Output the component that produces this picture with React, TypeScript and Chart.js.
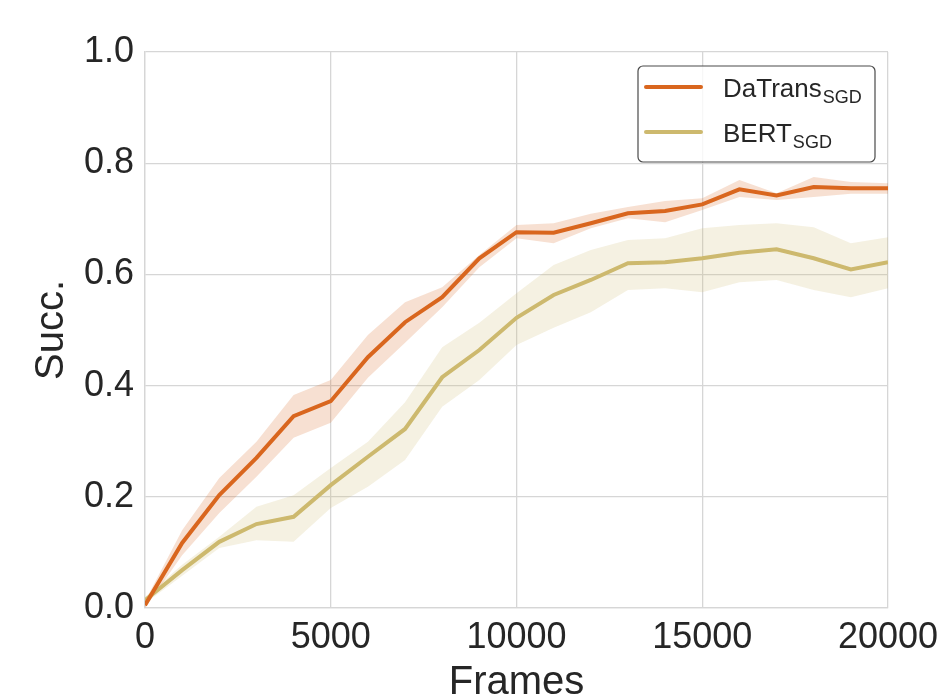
import React, { useEffect, useRef } from "react";
import { Chart, registerables } from "chart.js";

Chart.register(...registerables);

const frames = [0, 1000, 2000, 3000, 4000, 5000, 6000, 7000, 8000, 9000, 10000, 11000, 12000, 13000, 14000, 15000, 16000, 17000, 18000, 19000, 20000];

const datransMean = [0.005, 0.117, 0.203, 0.27, 0.345, 0.372, 0.451, 0.514, 0.559, 0.629, 0.676, 0.675, 0.692, 0.71, 0.714, 0.726, 0.753, 0.742, 0.757, 0.755, 0.755];
const datransUpper = [0.012, 0.14, 0.234, 0.299, 0.383, 0.41, 0.491, 0.55, 0.577, 0.635, 0.689, 0.692, 0.709, 0.721, 0.732, 0.737, 0.77, 0.746, 0.775, 0.766, 0.764];
const datransLower = [0.0, 0.095, 0.171, 0.236, 0.306, 0.333, 0.414, 0.477, 0.541, 0.613, 0.665, 0.656, 0.683, 0.701, 0.694, 0.716, 0.739, 0.734, 0.739, 0.745, 0.745];

const bertMean = [0.014, 0.068, 0.119, 0.151, 0.164, 0.221, 0.272, 0.322, 0.415, 0.464, 0.522, 0.563, 0.59, 0.62, 0.622, 0.629, 0.639, 0.645, 0.629, 0.609, 0.622];
const bertUpper = [0.02, 0.078, 0.128, 0.182, 0.203, 0.252, 0.299, 0.37, 0.469, 0.513, 0.566, 0.617, 0.644, 0.662, 0.665, 0.683, 0.689, 0.692, 0.685, 0.656, 0.667];
const bertLower = [0.008, 0.058, 0.108, 0.122, 0.119, 0.18, 0.218, 0.266, 0.362, 0.41, 0.473, 0.504, 0.532, 0.572, 0.575, 0.568, 0.586, 0.59, 0.572, 0.559, 0.575];

const legendNames = ["DaTrans", "BERT"];
const legendSubs = ["SGD", "SGD"];

const xTicks = [0, 5000, 10000, 15000, 20000];
const yTicks = [0, 0.2, 0.4, 0.6, 0.8, 1.0];

const ORANGE = "rgb(217,102,30)";
const ORANGE_BAND = "rgba(217,102,30,0.2)";
const TAN = "rgb(205,185,110)";
const TAN_BAND = "rgba(205,185,110,0.2)";
const FONT = "'Liberation Sans', Arial, sans-serif";
const TEXT = "#262626";
const GRID = "#d6d6d6";

const pts = (ys: number[]) => frames.map((x, i) => ({ x, y: ys[i] }));

const legendPlugin = {
  id: "subLegend",
  afterDraw(chart: any) {
    const { ctx, chartArea } = chart;
    const w = 237;
    const h = 96;
    const left = chartArea.right - 13 - w;
    const top = chartArea.top + 14;
    ctx.save();
    ctx.beginPath();
    ctx.roundRect(left, top, w, h, 5);
    ctx.fillStyle = "rgba(255,255,255,0.8)";
    ctx.fill();
    ctx.lineWidth = 1.2;
    ctx.strokeStyle = "#4a4a4a";
    ctx.stroke();
    const colors = [ORANGE, TAN];
    legendNames.forEach((name, i) => {
      const ly = top + 21 + i * 45;
      ctx.beginPath();
      ctx.moveTo(left + 8, ly);
      ctx.lineTo(left + 63, ly);
      ctx.lineWidth = 4;
      ctx.lineCap = "round";
      ctx.strokeStyle = colors[i];
      ctx.stroke();
      ctx.fillStyle = TEXT;
      ctx.textBaseline = "alphabetic";
      ctx.textAlign = "left";
      ctx.font = `26px ${FONT}`;
      const tx = left + 85;
      const by = ly + 10;
      ctx.fillText(name, tx, by);
      const tw = ctx.measureText(name).width;
      ctx.font = `18px ${FONT}`;
      ctx.fillText(legendSubs[i], tx + tw + 1, by + 6);
    });
    ctx.restore();
  },
};

export default function App() {
  const ref = useRef<HTMLCanvasElement>(null);
  useEffect(() => {
    document.body.style.margin = "0";
    const canvas = ref.current!;
    const chart = new Chart(canvas, {
      type: "line",
      data: {
        datasets: [
          { label: "DaTrans", data: pts(datransMean), borderColor: ORANGE, borderWidth: 4, pointRadius: 0, fill: false, tension: 0 },
          { label: "BERT", data: pts(bertMean), borderColor: TAN, borderWidth: 4, pointRadius: 0, fill: false, tension: 0 },
          { label: "dt-up", data: pts(datransUpper), borderWidth: 0, pointRadius: 0, backgroundColor: ORANGE_BAND, fill: "+1" },
          { label: "dt-lo", data: pts(datransLower), borderWidth: 0, pointRadius: 0, fill: false },
          { label: "b-up", data: pts(bertUpper), borderWidth: 0, pointRadius: 0, backgroundColor: TAN_BAND, fill: "+1" },
          { label: "b-lo", data: pts(bertLower), borderWidth: 0, pointRadius: 0, fill: false },
        ],
      },
      options: {
        animation: false,
        responsive: false,
        layout: { padding: { top: 52, right: 52, left: 0, bottom: 0 } },
        plugins: { legend: { display: false }, tooltip: { enabled: false } },
        scales: {
          x: {
            type: "linear",
            min: 0,
            max: 20000,
            afterFit: (s: any) => { s.height = 91; s.paddingLeft = 0; s.paddingRight = 0; },
            afterBuildTicks: (s: any) => { s.ticks = xTicks.map((v) => ({ value: v })); },
            ticks: { padding: 8, color: TEXT, font: { family: FONT, size: 36 }, callback: (v: any) => String(v), maxRotation: 0 },
            grid: { color: GRID, lineWidth: 1.3, drawTicks: false },
            border: { display: true, color: GRID, width: 1.3 },
            title: { display: true, text: "Frames", color: TEXT, font: { family: FONT, size: 40 }, padding: { top: 0, bottom: -8 } },
          },
          y: {
            type: "linear",
            min: 0,
            max: 1,
            afterFit: (s: any) => { s.width = 145; s.paddingTop = 0; s.paddingBottom = 0; },
            afterBuildTicks: (s: any) => { s.ticks = yTicks.map((v) => ({ value: v })); },
            ticks: { padding: 11, color: TEXT, font: { family: FONT, size: 36 }, callback: (v: any) => Number(v).toFixed(1) },
            grid: { color: GRID, lineWidth: 1.3, drawTicks: false },
            border: { display: true, color: GRID, width: 1.3 },
            title: { display: true, text: "Succ.", color: TEXT, font: { family: FONT, size: 40 }, padding: { top: 28, bottom: 0 } },
          },
        },
      },
      plugins: [legendPlugin],
    });
    return () => chart.destroy();
  }, []);
  return (
    <div style={{ width: 940, height: 699, background: "#fff" }}>
      <canvas ref={ref} width={940} height={699} style={{ display: "block" }} />
    </div>
  );
}
